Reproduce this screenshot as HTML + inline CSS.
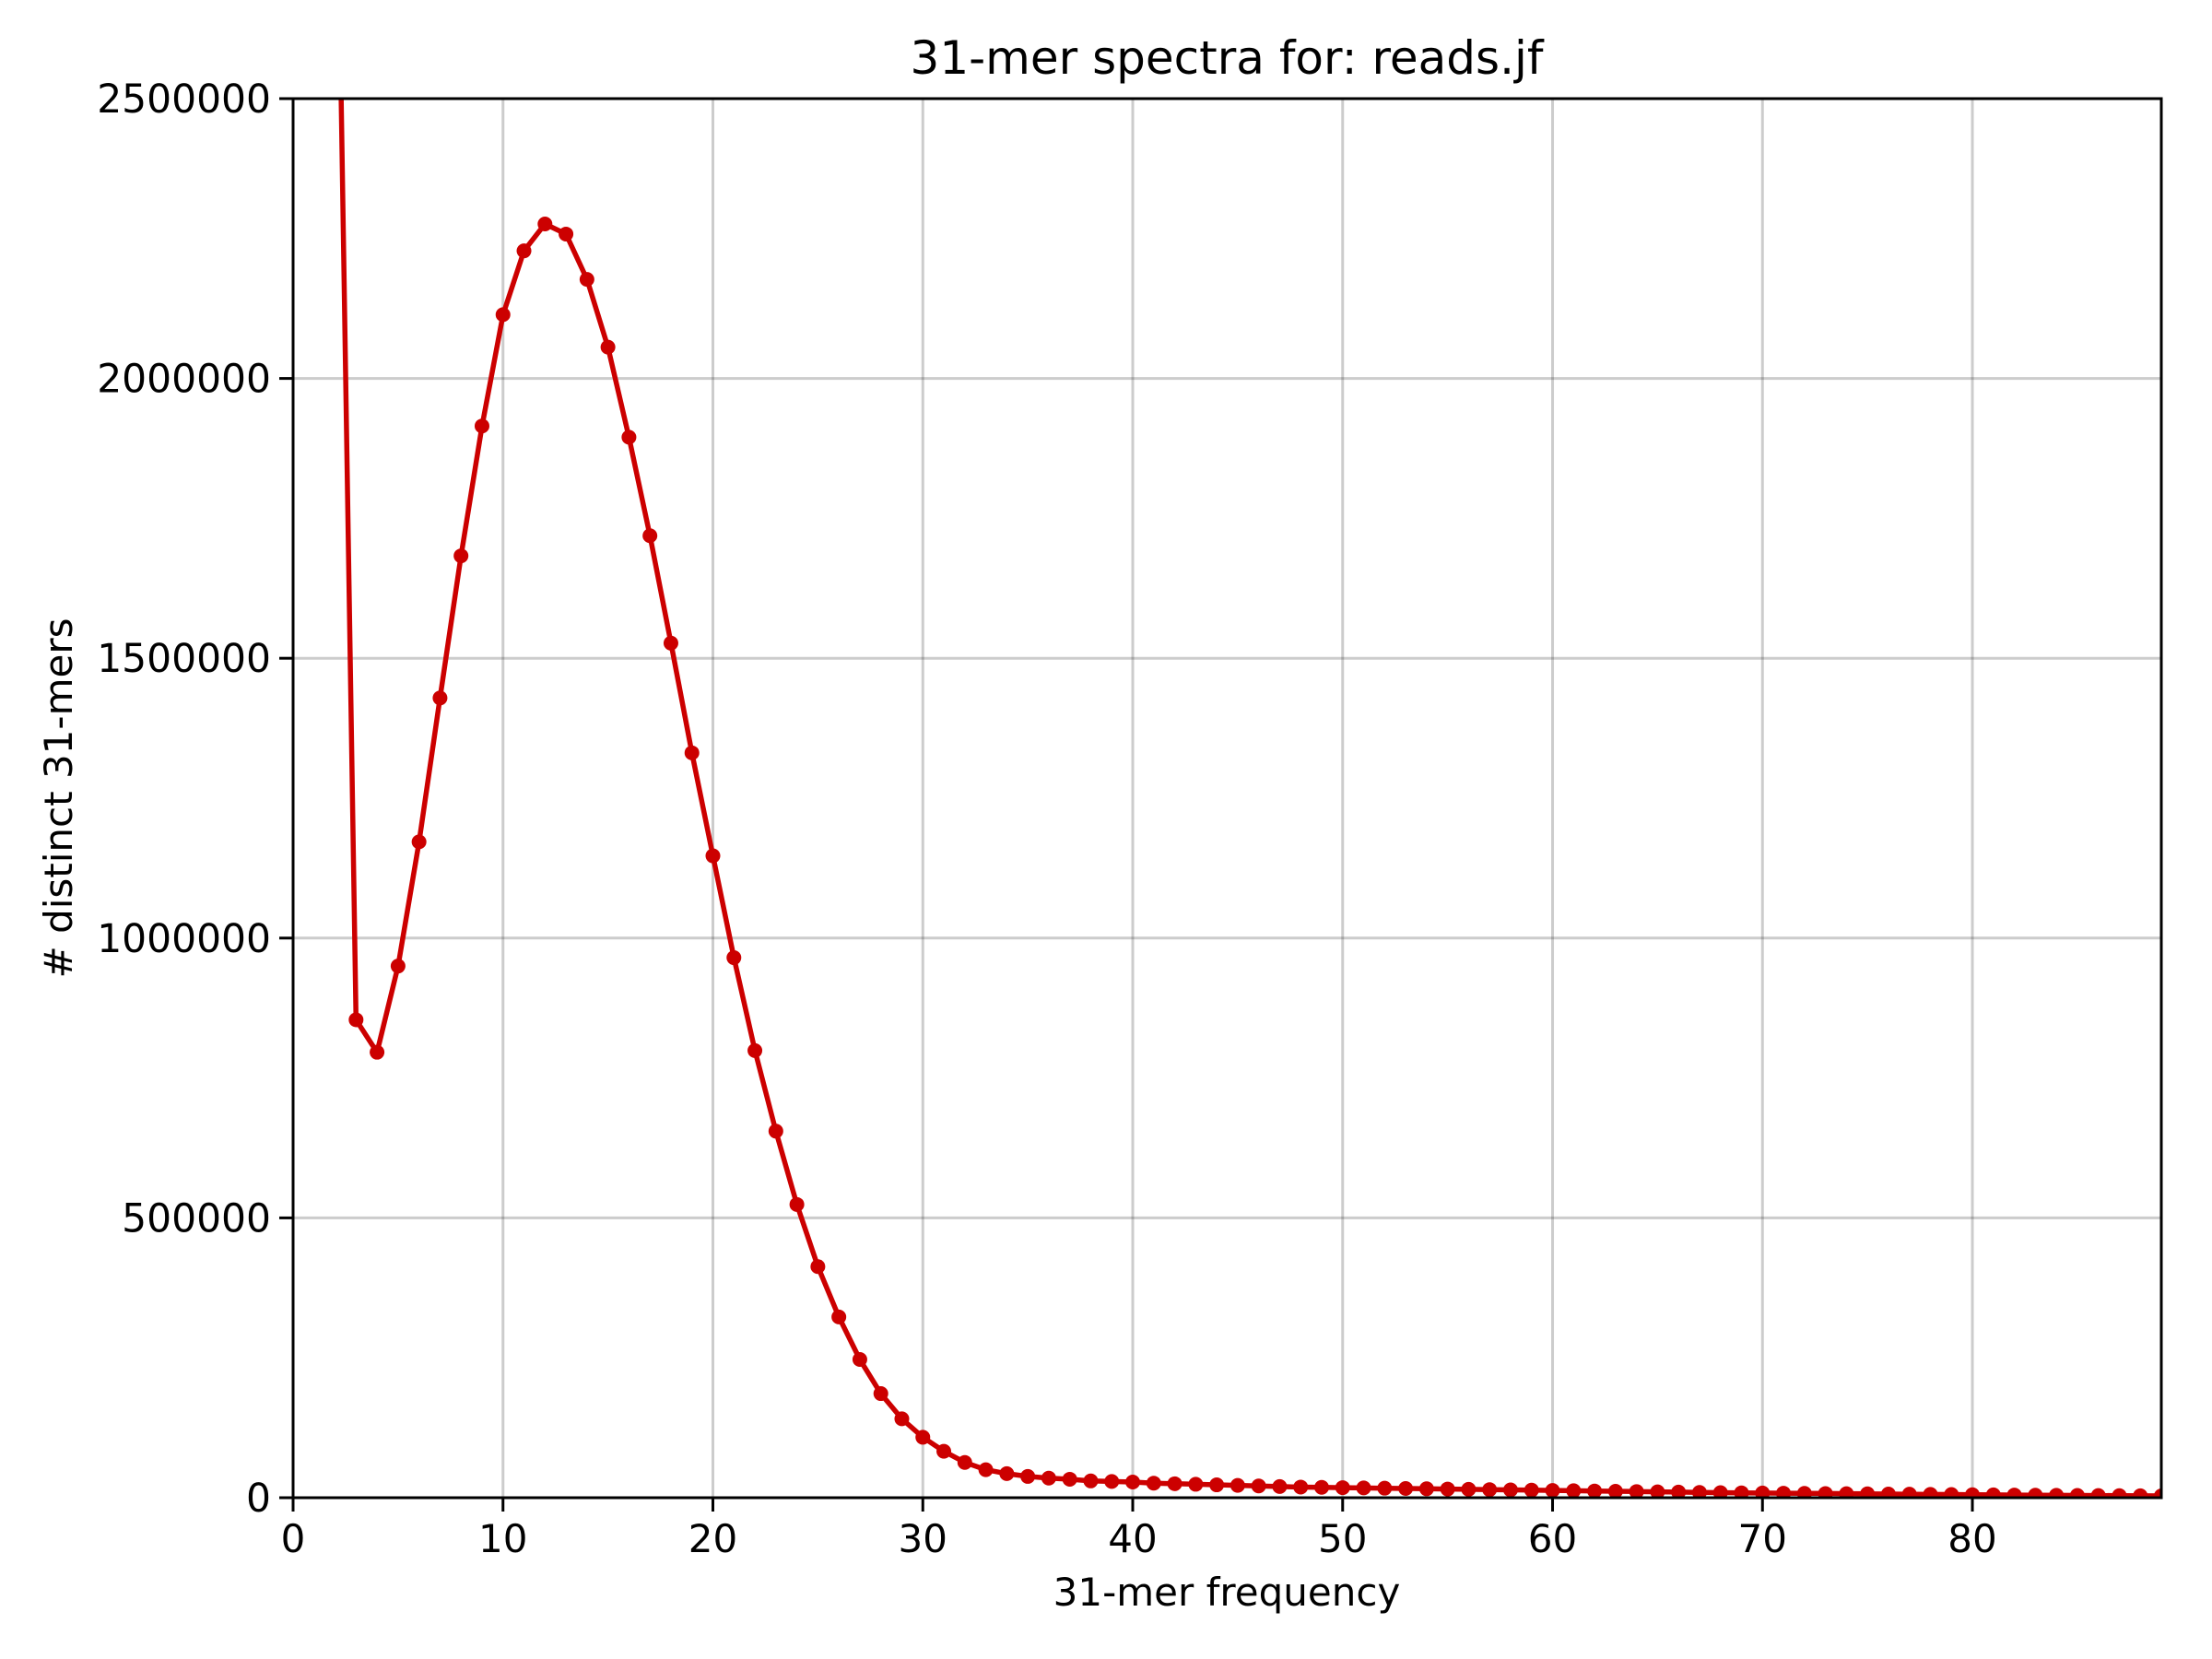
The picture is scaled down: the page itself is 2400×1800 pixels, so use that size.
<!DOCTYPE html>
<html><head><meta charset="utf-8">
<style>
html,body{margin:0;padding:0;background:#fff;}
svg{display:block;font-family:"DejaVu Sans","Liberation Sans",sans-serif;}
</style></head>
<body>
<svg id="chart" width="2400" height="1800" viewBox="0 0 2400 1800" xmlns="http://www.w3.org/2000/svg">
<rect width="2400" height="1800" fill="#fff"/>
<defs><clipPath id="plotclip"><rect x="318" y="107" width="2027" height="1518"/></clipPath></defs>
<g id="grid"></g>
<g id="series" clip-path="url(#plotclip)"></g>
<rect x="318" y="107" width="2027" height="1518" fill="none" stroke="#000" stroke-width="3"/>
<g id="ticks"></g>
<text x="1331" y="80" font-size="50" text-anchor="middle">31-mer spectra for: reads.jf</text>
<text x="1331" y="1742" font-size="42" text-anchor="middle">31-mer frequency</text>
<text x="0" y="0" font-size="42" text-anchor="middle" transform="translate(78,866) rotate(-90)"># distinct 31-mers</text>
</svg>
<script>
const xTicks = [0,10,20,30,40,50,60,70,80];
const yTicks = [0,500000,1000000,1500000,2000000,2500000];
const yTickLabels = ["0","500000","1000000","1500000","2000000","2500000"];
const freqs = [1,2,3,4,5,6,7,8,9,10,11,12,13,14,15,16,17,18,19,20,21,22,23,24,25,26,27,28,29,30,31,32,33,34,35,36,37,38,39,40,41,42,43,44,45,46,47,48,49,50,51,52,53,54,55,56,57,58,59,60,61,62,63,64,65,66,67,68,69,70,71,72,73,74,75,76,77,78,79,80,81,82,83,84,85,86,87,88,89,90];
const counts = [40000000,3170000,854000,796000,950000,1172000,1429000,1683000,1915000,2114000,2228000,2276000,2258000,2177000,2056000,1895000,1719000,1527000,1331000,1147000,965000,799000,655000,524000,413000,323000,247000,186000,141000,108000,83000,63000,50000,43000,38000,35000,33000,30000,29000,28000,26000,25000,24000,23000,22000,21000,20000,19000,18500,18000,17500,17000,16500,16000,15500,15000,14500,14000,13500,13000,12500,12000,11500,11000,10500,10000,9500,9000,8700,8400,8100,7800,7500,7200,6900,6600,6300,6000,5700,5400,5100,4800,4500,4300,4100,3900,3700,3500,3300,3100];
const X0=318, X1=2345, Y0=1625, Y1=107, XMAX=89, YMAX=2500000;
const sx = v => X0 + (X1-X0)*v/XMAX;
const sy = v => Y0 - (Y0-Y1)*v/YMAX;
const NS="http://www.w3.org/2000/svg";
function mk(tag, attrs){const e=document.createElementNS(NS,tag);for(const k in attrs)e.setAttribute(k,attrs[k]);return e;}
const grid=document.getElementById('grid'), ticks=document.getElementById('ticks'), series=document.getElementById('series');
xTicks.forEach(t=>{
  const x=sx(t);
  const g=mk('line',{x1:x,x2:x,y1:Y1,y2:Y0,stroke:'#000','stroke-opacity':0.2,'stroke-width':3});
  
  
  grid.appendChild(g);
  const tk=mk('line',{x1:x,x2:x,y1:Y0,y2:Y0+15,stroke:'#000','stroke-width':3});
  
  
  ticks.appendChild(tk);
  const lb=mk('text',{x:x,y:Y0+59,'font-size':42,'text-anchor':'middle'});
  lb.textContent=String(t);
  
  
  ticks.appendChild(lb);
});
yTicks.forEach((t,i)=>{
  const y=sy(t);
  const g=mk('line',{x1:X0,x2:X1,y1:y,y2:y,stroke:'#000','stroke-opacity':0.2,'stroke-width':3});
  
  
  grid.appendChild(g);
  const tk=mk('line',{x1:X0-15,x2:X0,y1:y,y2:y,stroke:'#000','stroke-width':3});
  
  
  ticks.appendChild(tk);
  const lb=mk('text',{x:X0-24,y:y+15,'font-size':42.4,'text-anchor':'end'});
  lb.textContent=yTickLabels[i];
  
  
  ticks.appendChild(lb);
});
const pts=freqs.map((f,i)=>sx(f).toFixed(1)+','+sy(counts[i]).toFixed(1)).join(' ');
const line=mk('polyline',{points:pts,fill:'none',stroke:'#cc0000','stroke-width':5.5,'stroke-linejoin':'round'});


series.appendChild(line);
freqs.forEach((f,i)=>{
  const c=mk('circle',{cx:sx(f),cy:sy(counts[i]),r:8,fill:'#cc0000'});
  
  
  series.appendChild(c);
});
</script>
</body></html>
